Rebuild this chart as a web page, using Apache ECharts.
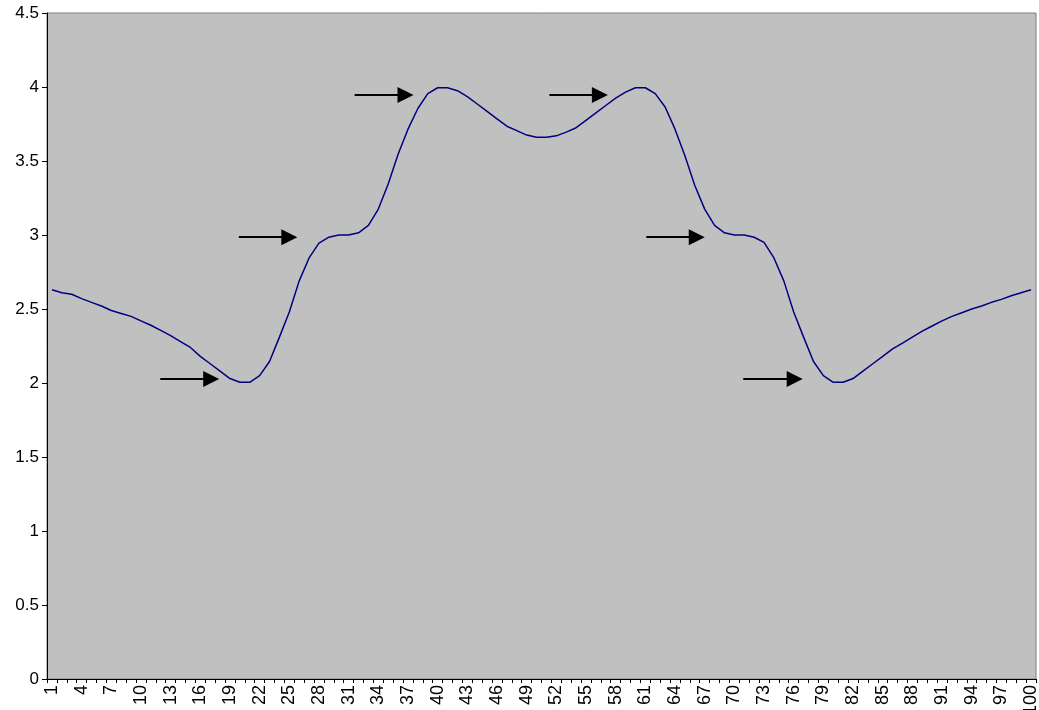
<!DOCTYPE html>
<html>
<head>
<meta charset="utf-8">
<script src="https://cdn.jsdelivr.net/npm/echarts@6/dist/echarts.min.js"></script>
<style>
html,body{margin:0;padding:0;background:#fff;}
#chart{width:1039px;height:710px;}
</style>
</head>
<body>
<div id="chart"></div>
<script>
// Categories 1..100
var categories = [];
for (var c = 1; c <= 100; c++) categories.push(String(c));

// Series values
var values = [
  2.63, 2.61, 2.60, 2.57, 2.545, 2.52, 2.49, 2.47, 2.45, 2.42,
  2.39, 2.355, 2.32, 2.28, 2.24, 2.18, 2.13, 2.08, 2.03, 2.005,
  2.005, 2.05, 2.145, 2.31, 2.48, 2.69, 2.845, 2.945, 2.985, 3.0,
  3.0, 3.015, 3.065, 3.175, 3.345, 3.545, 3.715, 3.855, 3.955, 3.995,
  3.995, 3.975, 3.935, 3.885, 3.835, 3.785, 3.735, 3.705, 3.675, 3.66,
  3.66, 3.67, 3.695, 3.725, 3.775, 3.825, 3.875, 3.925, 3.965, 3.995,
  3.995, 3.955, 3.865, 3.715, 3.535, 3.335, 3.175, 3.065, 3.015, 3.0,
  3.0, 2.985, 2.95, 2.845, 2.69, 2.48, 2.31, 2.145, 2.05, 2.005,
  2.005, 2.03, 2.08, 2.13, 2.18, 2.23, 2.27, 2.31, 2.35, 2.385,
  2.42, 2.45, 2.475, 2.50, 2.52, 2.545, 2.565, 2.59, 2.61, 2.63
];

// Arrow annotations (in category-number units along x, value units along y)
var arrowStartX = [11.95, 19.9, 31.6, 51.3, 61.1, 70.9];
var arrowEndX   = [17.1, 25.0, 36.75, 56.4, 66.2, 76.1];
var arrowY      = [2.027, 2.985, 3.946, 3.946, 2.985, 2.027];

// Y tick settings
var yMin = 0, yMax = 4.5, yStep = 0.5;

var arrowData = [];
for (var i = 0; i < arrowStartX.length; i++) {
  arrowData.push({coords: [[arrowStartX[i], arrowY[i]], [arrowEndX[i], arrowY[i]]]});
}

var chart = echarts.init(document.getElementById('chart'), null, {renderer: 'canvas'});
chart.setOption({
  animation: false,
  grid: {
    left: 47, right: 3, top: 13, bottom: 31,
    outerBoundsMode: 'none',
    containLabel: false,
    show: true, backgroundColor: '#C0C0C0', borderColor: '#808080', borderWidth: 1
  },
  xAxis: [{
    type: 'category',
    data: categories,
    boundaryGap: true,
    axisLine: {lineStyle: {color: '#000', width: 1}},
    axisTick: {show: true, interval: 0, length: 4, lineStyle: {color: '#000'}},
    axisLabel: {
      interval: 2, rotate: 90, margin: 6, color: '#000',
      fontFamily: 'Liberation Sans, Arial, sans-serif', fontSize: 18
    },
    splitLine: {show: false}
  }, {
    type: 'value', min: 0.5, max: 100.5, show: false
  }],
  yAxis: {
    type: 'value', min: yMin, max: yMax, interval: yStep,
    axisLine: {show: true, lineStyle: {color: '#000', width: 1}},
    axisTick: {show: true, length: 5, lineStyle: {color: '#000'}},
    axisLabel: {
      margin: 8, color: '#000',
      fontFamily: 'Liberation Sans, Arial, sans-serif', fontSize: 17
    },
    splitLine: {show: false}
  },
  series: [{
    type: 'line',
    data: values,
    xAxisIndex: 0,
    showSymbol: false,
    symbol: 'none',
    lineStyle: {color: '#000080', width: 1.5},
    z: 3
  }, {
    type: 'lines',
    coordinateSystem: 'cartesian2d',
    xAxisIndex: 1,
    yAxisIndex: 0,
    symbol: ['none', 'triangle'],
    symbolSize: 16,
    lineStyle: {color: '#000', width: 2, opacity: 1},
    itemStyle: {color: '#000'},
    data: arrowData,
    z: 4
  }]
});
</script>
</body>
</html>
